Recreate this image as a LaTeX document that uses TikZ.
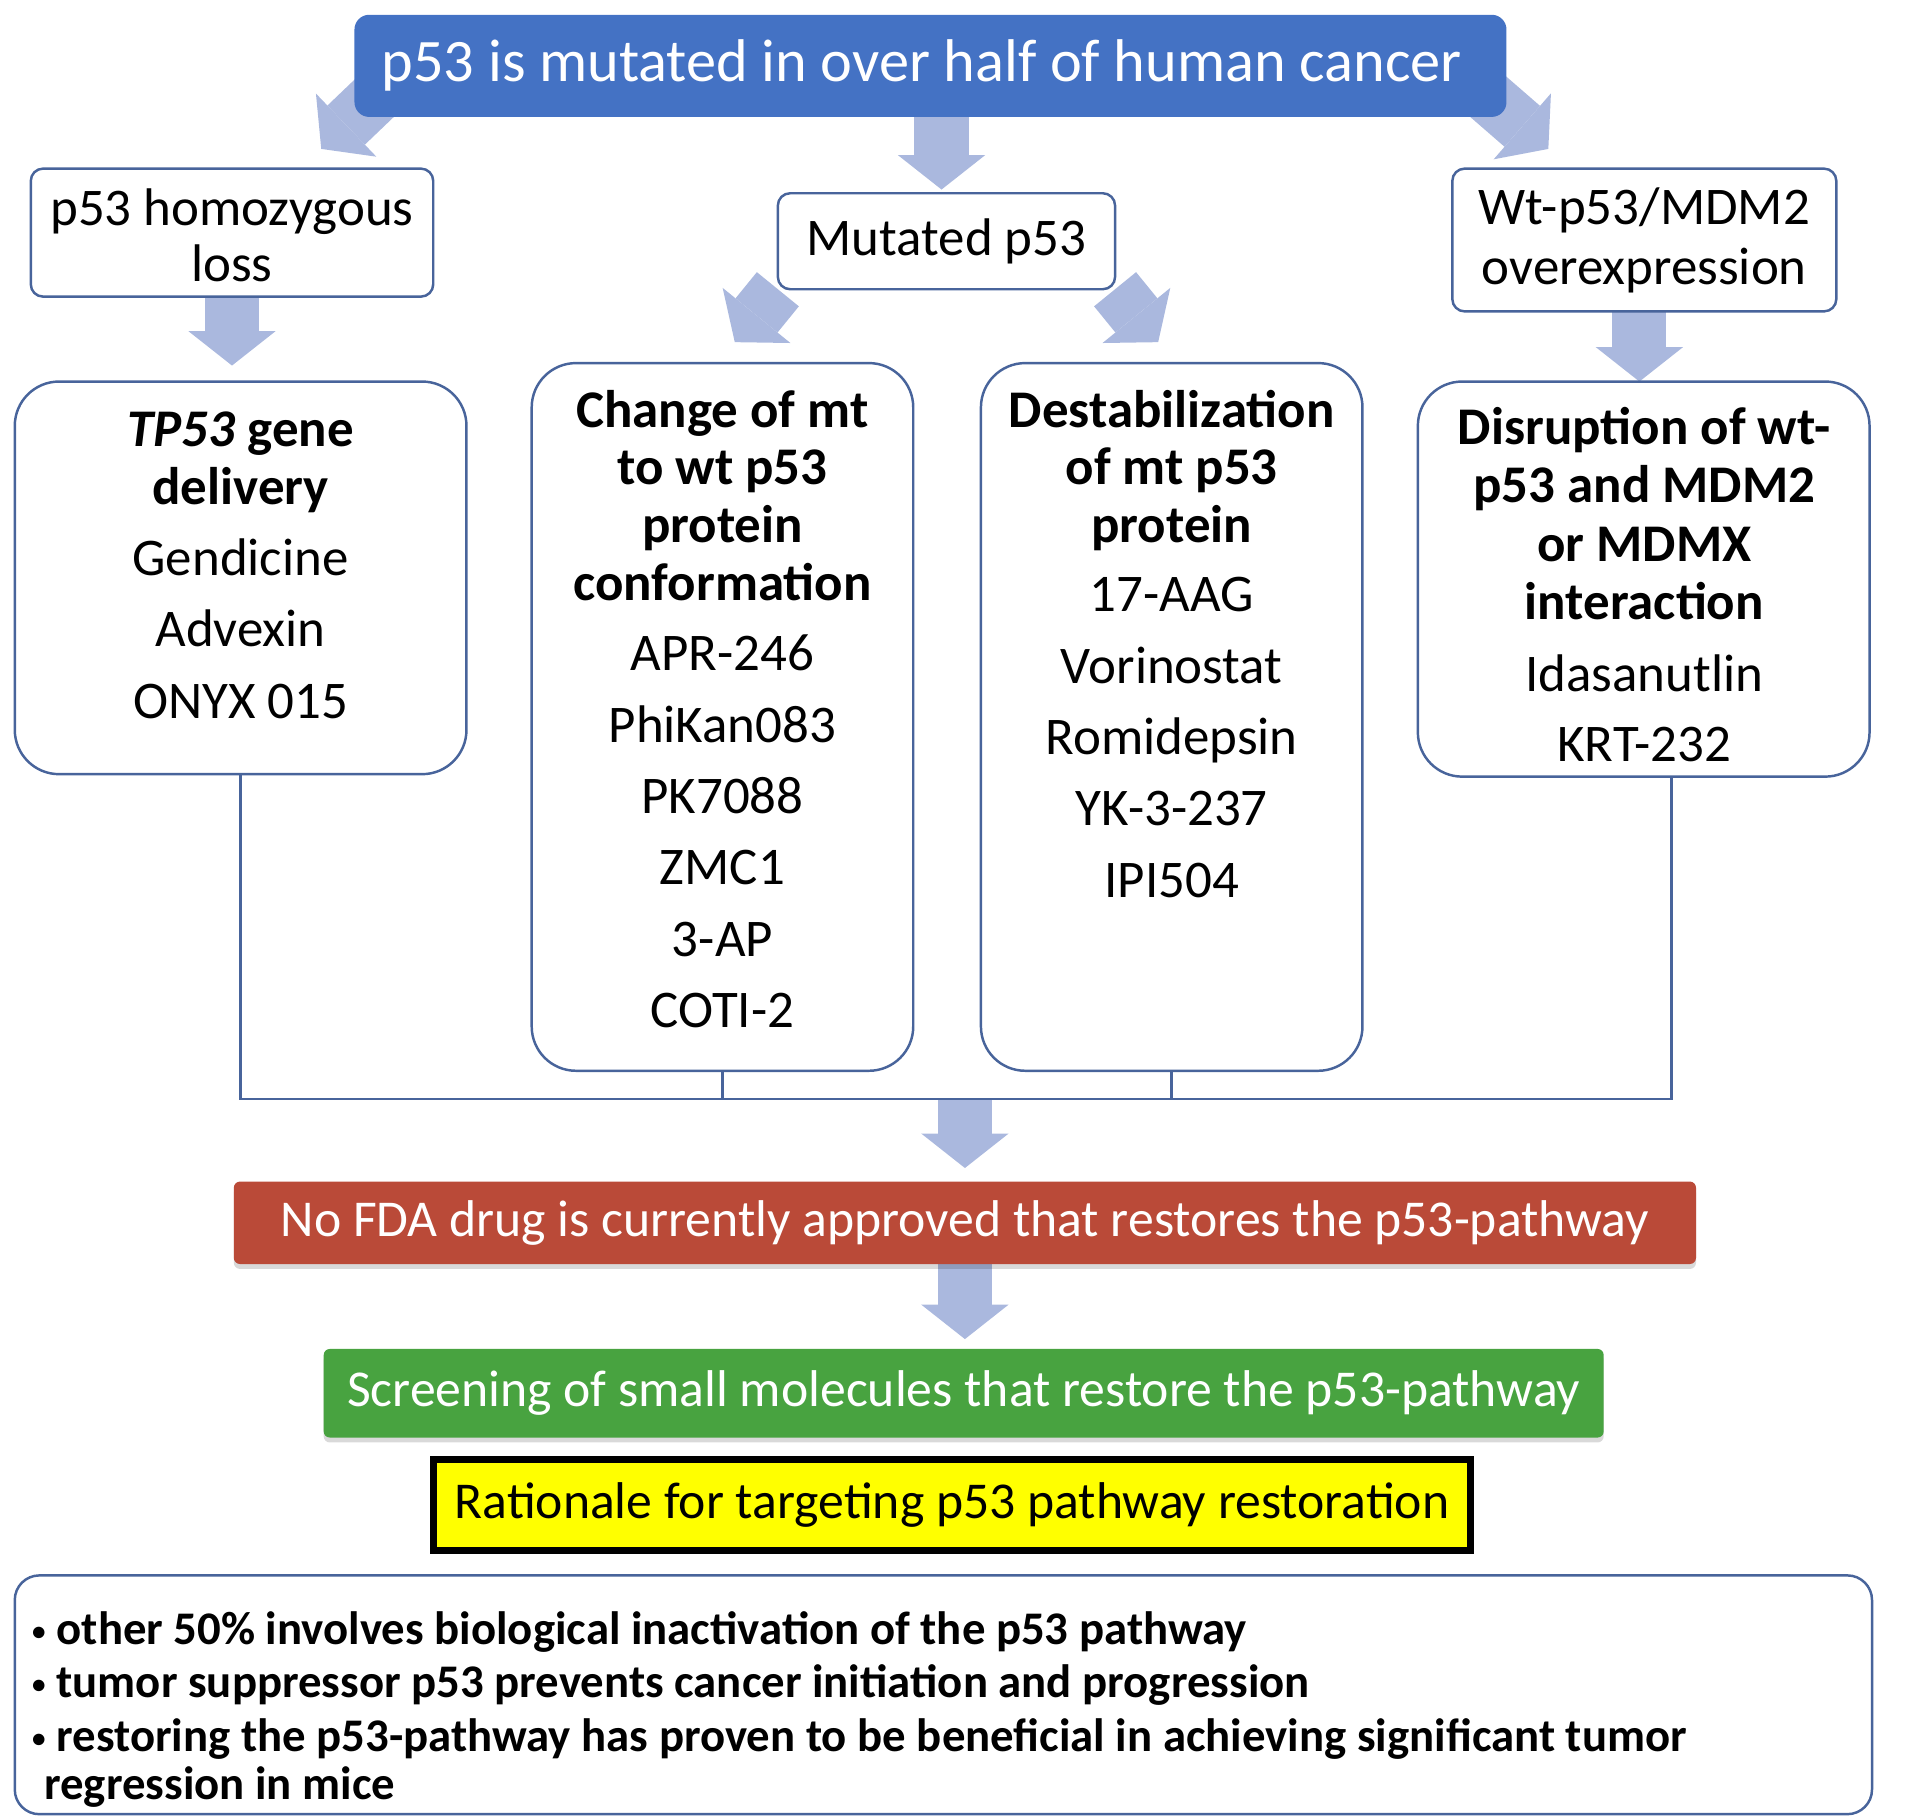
\documentclass[tikz,border=0pt]{standalone}
\usepackage{fontspec}
\setmainfont{Carlito}
\usetikzlibrary{arrows.meta,calc,shadows,backgrounds}
\definecolor{titleblue}{RGB}{68,114,196}
\definecolor{arrowfill}{RGB}{170,184,222}
\definecolor{edgeblue}{RGB}{72,100,155}
\definecolor{redbox}{RGB}{186,74,56}
\definecolor{greenbox}{RGB}{72,163,64}
\definecolor{hlyellow}{RGB}{255,255,0}
\newcommand{\smallbullet}{\makebox[24pt][l]{\hspace{4pt}\raisebox{3pt}{\fontsize{22}{22}\selectfont\textbullet}}}
\begin{document}
\begin{tikzpicture}[x=1pt,y=-1pt,
  every node/.style={inner sep=0pt, outer sep=0pt},
  lbl/.style={font=\fontsize{43}{50}\selectfont, anchor=base},
  hd/.style={font=\fontsize{43}{50}\selectfont\bfseries, anchor=base},
  btxt/.style={font=\fontsize{38}{44}\selectfont\bfseries, anchor=base west},
  smallbox/.style={draw=edgeblue, line width=2pt, fill=white, rounded corners=10pt},
  bigbox/.style={draw=edgeblue, line width=2pt, fill=white, rounded corners=36pt},
  banner/.style={text=white, font=\fontsize{42}{48}\selectfont, rounded corners=5pt,
     drop shadow={shadow xshift=0pt, shadow yshift=-4pt, opacity=0.15, fill=black}},
  blockarr/.style={draw=arrowfill, line width=44pt,
     -{Triangle[length=28pt,width=71pt,line width=0pt]}},
  conn/.style={draw=edgeblue, line width=2pt}
]
\useasboundingbox (0,0) rectangle (1560,1478);

% ---------- title ----------
\node[fill=titleblue, rounded corners=12pt, text=white, font=\fontsize{49}{56}\selectfont,
      minimum width=936pt, minimum height=83pt] (title) at (756,53.5)
      {p53 is mutated in over half of human cancer\kern14pt};

% ---------- level 2 ----------
\node[smallbox, minimum width=327pt, minimum height=104pt] (homo) at (188.5,189) {};
\node[lbl] (homo-t1) at (188.5,183) {p53 homozygous};
\node[lbl] (homo-t2) at (188.5,229) {loss};

\node[smallbox, minimum width=274pt, minimum height=78pt,
      font=\fontsize{43}{50}\selectfont] (mut) at (769,196) {Mutated p53};

\node[smallbox, minimum width=312pt, minimum height=116pt] (wt) at (1336,195) {};
\node[lbl] (wt-t1) at (1336,182) {Wt-p53/MDM2};
\node[lbl] (wt-t2) at (1336,231) {overexpression};

% ---------- level 3 ----------
\node[bigbox, minimum width=367pt, minimum height=319pt] (box1) at (195.5,469.5) {};
\node[hd] (b1h1) at (195.5,363) {\textit{TP53} gene};
\node[hd] (b1h2) at (195.5,410) {delivery};
\foreach \t/\yy [count=\i] in {Gendicine/467.5, Advexin/525.5, ONYX 015/583.5}
  \node[lbl] (b1i\i) at (195.5,\yy) {\t};

\node[bigbox, minimum width=310pt, minimum height=575pt] (box2) at (587,582.5) {};
\foreach \t/\yy [count=\i] in {Change of mt/347, to wt p53/394, protein/441, conformation/488}
  \node[hd] (b2h\i) at (587,\yy) {\t};
\foreach \t/\yy [count=\i] in {APR-246/545, PhiKan083/603, PK7088/661, ZMC1/719, 3-AP/777, COTI-2/835}
  \node[lbl] (b2i\i) at (587,\yy) {\t};

\node[bigbox, minimum width=310pt, minimum height=575pt] (box3) at (952,582.5) {};
\foreach \t/\yy [count=\i] in {Destabilization/347, of mt p53/394, protein/441}
  \node[hd] (b3h\i) at (952,\yy) {\t};
\foreach \t/\yy [count=\i] in {17-AAG/497, Vorinostat/555, Romidepsin/613, YK-3-237/671, IPI504/729}
  \node[lbl] (b3i\i) at (952,\yy) {\t};

\node[bigbox, minimum width=367pt, minimum height=321pt] (box4) at (1335.5,470.5) {};
\foreach \t/\yy [count=\i] in {Disruption of wt-/361, p53 and MDM2/408, or MDMX/456, interaction/503.5}
  \node[hd] (b4h\i) at (1336,\yy) {\t};
\foreach \t/\yy [count=\i] in {Idasanutlin/561.5, KRT-232/619}
  \node[lbl] (b4i\i) at (1336,\yy) {\t};

% ---------- bottom part ----------
\node[banner, fill=redbox, minimum width=1188pt, minimum height=67pt] (red) at (784,993.5)
  {No FDA drug is currently approved that restores the p53-pathway};
\node[banner, fill=greenbox, minimum width=1040pt, minimum height=72pt] (green) at (783,1132)
  {Screening of small molecules that restore the p53-pathway};
\node[draw=black, line width=6pt, fill=hlyellow, font=\fontsize{42}{48}\selectfont,
      minimum width=843pt, minimum height=74pt] (yellow) at (773.5,1223)
  {Rationale for targeting p53 pathway restoration};

\node[draw=edgeblue, line width=2pt, fill=white, rounded corners=20pt,
      minimum width=1509pt, minimum height=194pt] (bottom) at (766.5,1377) {};
\node[btxt] (bl1) at (22,1336) {\smallbullet other 50\% involves biological inactivation of the p53 pathway};
\node[btxt] (bl2) at (22,1379) {\smallbullet tumor suppressor p53 prevents cancer initiation and progression};
\node[btxt] (bl3) at (22,1423) {\smallbullet restoring the p53-pathway has proven to be beneficial in achieving significant tumor};
\node[btxt] (bl4) at (36,1462) {regression in mice};

% ---------- coordinates ----------
\coordinate (tipL) at (261,121);
\coordinate (tipR) at (1258,121);
\coordinate (tipML) at (597,278);
\coordinate (tipMR) at (941,278);
\coordinate (bus4) at (1358,893);

% ---------- connectors ----------
\draw[conn] (box1.south) |- (bus4) -- (bus4 |- box4.south);
\draw[conn] (box2.south) -- (box2.south |- bus4);
\draw[conn] (box3.south) -- (box3.south |- bus4);

\begin{scope}[on background layer]
  \draw[blockarr] ($(title.south west)+(42,-40)$) -- (tipL);
  \draw[blockarr] ($(title.south east)+(-42,-40)$) -- (tipR);
  \draw[blockarr] ($(title.south -| mut.north)+(-4,-10)$) -- ($(mut.north)+(-4,-3)$);
  \draw[blockarr] (mut.south west) -- (tipML);
  \draw[blockarr] (mut.south east) -- (tipMR);
  \draw[blockarr, shorten >=13pt] (homo.south) -- (homo.south |- box1.north);
  \draw[blockarr] ($(wt.south)+(-4,0)$) -- ($(wt.south |- box4.north)+(-4,0)$);
  \draw[blockarr, shorten >=11pt] (red.north |- bus4) -- (red.north);
  \draw[blockarr, shorten >=8pt] (red.south) -- (red.south |- green.north);
\end{scope}
\end{tikzpicture}
\end{document}
